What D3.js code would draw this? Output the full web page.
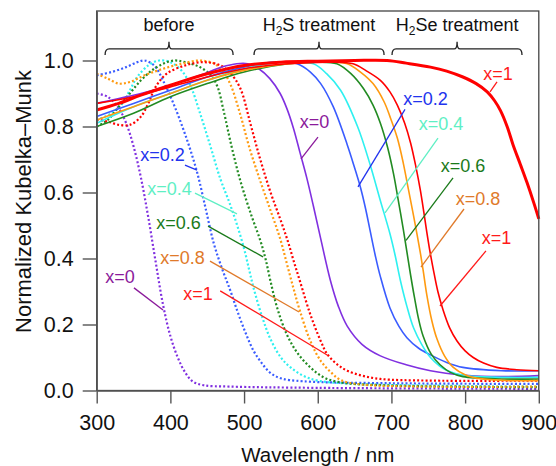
<!DOCTYPE html>
<html><head><meta charset="utf-8">
<script src="https://cdn.jsdelivr.net/npm/d3@7/dist/d3.min.js"></script>
<style>
body{margin:0;background:#fff;}
svg{display:block;font-family:"Liberation Sans",Arial,Helvetica,sans-serif;}
</style></head>
<body><svg id="chart" width="556" height="466"></svg>
<script>
// ---------- data (wavelength nm, normalized K-M) ----------
const xTicks = [300,400,500,600,700,800,900];
const yTicks = [0,0.2,0.4,0.6,0.8,1.0];
const seriesNames = ["x=0","x=0.2","x=0.4","x=0.6","x=0.8","x=1"];

// before (dotted)
const before_x0  = [[300,0.90],[315,0.89],[330,0.855],[340,0.81],[350,0.74],[360,0.645],[370,0.525],[380,0.39],[390,0.26],[400,0.165],[410,0.10],[420,0.055],[430,0.028],[445,0.016],[480,0.012],[600,0.008],[900,0.005]];
const before_x02 = [[300,0.955],[320,0.965],[340,0.98],[355,0.995],[365,1.0],[378,0.985],[391,0.935],[405,0.865],[417,0.795],[427,0.73],[437,0.655],[448,0.55],[459,0.445],[470,0.37],[481,0.305],[491,0.24],[502,0.175],[513,0.12],[525,0.08],[536,0.053],[550,0.037],[580,0.028],[700,0.022],[900,0.02]];
const before_x04 = [[300,0.82],[320,0.84],[335,0.87],[345,0.91],[355,0.95],[370,0.985],[385,1.0],[400,0.995],[415,0.97],[427,0.925],[441,0.835],[455,0.735],[468,0.64],[480,0.57],[490,0.505],[500,0.43],[507,0.365],[513,0.31],[525,0.22],[536,0.155],[550,0.10],[563,0.07],[580,0.045],[600,0.03],[650,0.02],[900,0.012]];
const before_x06 = [[300,0.80],[315,0.82],[330,0.86],[345,0.90],[360,0.94],[375,0.97],[390,0.99],[405,1.0],[420,0.995],[440,0.98],[455,0.955],[464,0.92],[472,0.85],[483,0.74],[495,0.635],[510,0.53],[522,0.455],[529,0.40],[536,0.33],[545,0.25],[558,0.17],[572,0.115],[590,0.07],[608,0.04],[630,0.025],[700,0.015],[900,0.01]];
const before_x08 = [[300,0.96],[315,0.945],[330,0.93],[345,0.935],[365,0.955],[390,0.975],[415,0.99],[440,1.0],[460,0.99],[472,0.965],[482,0.925],[495,0.835],[508,0.73],[522,0.635],[536,0.545],[549,0.46],[558,0.385],[567,0.31],[576,0.24],[590,0.15],[604,0.09],[618,0.055],[631,0.032],[660,0.018],[900,0.012]];
const before_x1  = [[300,0.82],[315,0.815],[330,0.805],[345,0.805],[360,0.83],[370,0.87],[380,0.92],[395,0.96],[420,0.985],[445,0.995],[468,0.985],[482,0.96],[495,0.915],[509,0.805],[522,0.70],[536,0.60],[549,0.52],[559,0.455],[567,0.395],[576,0.33],[590,0.23],[604,0.15],[613,0.11],[627,0.078],[640,0.06],[660,0.045],[685,0.035],[750,0.03],[900,0.03]];

// H2S treatment (thin solid)
const h2s_x0  = [[300,0.87],[330,0.885],[360,0.90],[400,0.925],[440,0.955],[470,0.98],[490,0.99],[505,0.99],[520,0.975],[535,0.945],[549,0.90],[558,0.855],[567,0.795],[576,0.72],[585,0.645],[594,0.56],[604,0.46],[617,0.335],[628,0.255],[640,0.195],[660,0.14],[685,0.105],[720,0.078],[753,0.06],[797,0.047],[850,0.042],[900,0.045]];
const h2s_x02 = [[300,0.83],[350,0.87],[400,0.91],[450,0.95],[500,0.98],[540,0.995],[572,0.99],[590,0.965],[604,0.93],[621,0.86],[640,0.745],[650,0.675],[658,0.615],[665,0.55],[671,0.485],[678,0.41],[685,0.345],[698,0.25],[710,0.195],[721,0.16],[737,0.128],[753,0.108],[775,0.085],[797,0.07],[850,0.06],[900,0.06]];
const h2s_x04 = [[300,0.81],[350,0.86],[400,0.90],[450,0.94],[500,0.975],[550,0.995],[594,0.99],[612,0.96],[631,0.91],[654,0.80],[671,0.685],[685,0.575],[698,0.475],[705,0.41],[712,0.335],[721,0.255],[730,0.19],[741,0.14],[753,0.10],[765,0.075],[776,0.06],[800,0.045],[850,0.04],[900,0.04]];
const h2s_x06 = [[300,0.80],[350,0.84],[400,0.89],[450,0.93],[500,0.965],[560,0.99],[600,0.995],[626,0.99],[645,0.96],[662,0.915],[675,0.865],[685,0.81],[695,0.735],[703,0.655],[709,0.58],[716,0.49],[721,0.42],[726,0.35],[731,0.285],[737,0.215],[743,0.165],[754,0.11],[766,0.078],[780,0.055],[797,0.042],[850,0.035],[900,0.035]];
const h2s_x08 = [[300,0.82],[350,0.86],[400,0.90],[450,0.94],[500,0.97],[560,0.99],[620,0.995],[640,0.99],[658,0.965],[675,0.93],[690,0.875],[698,0.83],[708,0.765],[716,0.69],[723,0.61],[730,0.53],[735,0.47],[739,0.42],[743,0.365],[748,0.29],[755,0.21],[762,0.155],[772,0.105],[784,0.07],[800,0.048],[820,0.036],[860,0.03],[900,0.03]];
const h2s_x1  = [[300,0.87],[350,0.89],[400,0.92],[450,0.95],[500,0.975],[560,0.99],[620,0.995],[648,0.99],[665,0.97],[685,0.94],[698,0.905],[708,0.865],[718,0.81],[726,0.75],[733,0.68],[739,0.61],[744,0.54],[748,0.48],[752,0.425],[757,0.365],[763,0.30],[770,0.245],[779,0.19],[789,0.15],[800,0.12],[811,0.10],[825,0.083],[843,0.07],[870,0.063],[900,0.06]];

// H2Se treatment (thick solid)
const h2se_x1 = [[300,0.85],[330,0.87],[360,0.895],[400,0.925],[450,0.96],[500,0.985],[550,0.995],[600,0.998],[650,1.0],[694,1.0],[720,0.992],[753,0.98],[775,0.968],[797,0.95],[815,0.93],[830,0.905],[840,0.878],[848,0.848],[857,0.80],[865,0.745],[875,0.685],[884,0.63],[893,0.57],[900,0.52]];

const groupNames = ["before","H2S treatment","H2Se treatment"];

// ---------- styles / layout ----------
const lineColors  = ["#8030e0","#3a5cff","#2ef0f0","#228b22","#ff9a10","#ff0000"];
const labelColors = ["#8b1a9b","#2233ee","#5fefc4","#1a7a1a","#e07a2a","#ff1a1a"];

const x = d3.scaleLinear().domain([300,900]).range([96.7,538.8]);
const y = d3.scaleLinear().domain([0,1.15]).range([390.5,11]);

const svg = d3.select("#chart");
const font = '"Liberation Sans",Arial,Helvetica,sans-serif';

const line = d3.line().x(d=>x(d[0])).y(d=>y(d[1])).curve(d3.curveCatmullRom.alpha(0.5));

const beforeSeries = [before_x0,before_x02,before_x04,before_x06,before_x08,before_x1];
const h2sSeries = [h2s_x0,h2s_x02,h2s_x04,h2s_x06,h2s_x08,h2s_x1];

const plot = svg.append("g");
beforeSeries.forEach((s,i)=>{
  plot.append("path").attr("d",line(s)).attr("fill","none")
    .attr("stroke",lineColors[i]).attr("stroke-width",2.2)
    .attr("stroke-dasharray","2,2.2");
});
h2sSeries.forEach((s,i)=>{
  plot.append("path").attr("d",line(s)).attr("fill","none")
    .attr("stroke",lineColors[i]).attr("stroke-width",1.6);
});
plot.append("path").attr("d",line(h2se_x1)).attr("fill","none")
  .attr("stroke",lineColors[5]).attr("stroke-width",3);

// frame
svg.append("rect").attr("x",x(300)).attr("y",y(1.15))
  .attr("width",x(900)-x(300)).attr("height",y(0)-y(1.15))
  .attr("fill","none").attr("stroke","#444").attr("stroke-width",1.3);

// axes
const gx = svg.append("g").attr("transform",`translate(0,${y(0)})`)
  .call(d3.axisBottom(x).tickValues(xTicks).tickSize(13).tickPadding(11).tickSizeOuter(0).tickFormat(d3.format("d")));
const gy = svg.append("g").attr("transform",`translate(${x(300)},0)`)
  .call(d3.axisLeft(y).tickValues(yTicks).tickSize(14).tickPadding(9).tickSizeOuter(0).tickFormat(d3.format(".1f")));
[gx,gy].forEach(g=>{
  g.selectAll("path.domain").attr("stroke","#555").attr("stroke-width",1.4);
  g.selectAll(".tick line").attr("stroke","#555").attr("stroke-width",1.4);
  g.selectAll(".tick text").attr("fill","#111").style("font-size","21.5px").style("font-family",font);
});

// axis titles
svg.append("text").attr("x",(x(300)+x(900))/2).attr("y",462)
  .attr("text-anchor","middle").style("font-size","20.5px").attr("fill","#111")
  .text("Wavelength / nm");
svg.append("text").attr("transform",`translate(31,${(y(0)+y(1))/2 - 24}) rotate(-90)`)
  .attr("text-anchor","middle").style("font-size","22px").attr("fill","#111")
  .text("Normalized Kubelka\u2013Munk");

// group brackets (data coords)
const brackets = [
  {name:groupNames[0], x1:311.4, x2:485.1, xc:398.1},
  {name:groupNames[1], x1:513.5, x2:690.0, xc:601.7},
  {name:groupNames[2], x1:700.8, x2:877.2, xc:789.1}
];
brackets.forEach(b=>{
  const X1=x(b.x1), X2=x(b.x2), XC=x(b.xc), Y=y(1.035), YE=y(1.017), YT=y(1.057);
  const p = `M${X1},${YE} Q${X1},${Y} ${X1+4},${Y} L${XC-3},${Y} Q${XC},${Y} ${XC},${YT} Q${XC},${Y} ${XC+3},${Y} L${X2-4},${Y} Q${X2},${Y} ${X2},${YE}`;
  svg.append("path").attr("d",p).attr("fill","none").attr("stroke","#222").attr("stroke-width",1.3);
  const t = svg.append("text").attr("x",XC).attr("y",y(1.090)).attr("text-anchor","middle")
    .style("font-size","18px").attr("fill","#111");
  if(b.name==="before"){ t.text("before"); }
  else {
    const rest = b.name.slice(2);
    t.append("tspan").text("H");
    t.append("tspan").text("2").style("font-size","12px").attr("dy",4);
    t.append("tspan").text(rest).attr("dy",-4);
  }
});

// annotations: label centre (lx,ly) + leader from (sx,sy) to (ex,ey), in data coords
const annotations = [
  // before
  {s:0, lx:331.6, ly:0.344, sx:350.6, sy:0.311, ex:390.0, ey:0.244},
  {s:1, lx:389.3, ly:0.714, sx:419.8, sy:0.683, ex:436.1, ey:0.668},
  {s:2, lx:398.8, ly:0.611, sx:433.4, sy:0.598, ex:490.4, ey:0.535},
  {s:3, lx:411.0, ly:0.508, sx:451.1, sy:0.498, ex:525.7, ey:0.405},
  {s:4, lx:416.4, ly:0.402, sx:453.8, sy:0.392, ex:574.6, ey:0.238},
  {s:5, lx:437.5, ly:0.295, sx:467.6, sy:0.302, ex:613.3, ey:0.107},
  // H2S
  {s:0, lx:595.6, ly:0.814, sx:600.3, sy:0.768, ex:577.3, ey:0.702},
  {s:1, lx:746.2, ly:0.886, sx:718.4, sy:0.852, ex:654.6, ey:0.617},
  {s:2, lx:767.3, ly:0.808, sx:763.2, sy:0.765, ex:691.3, ey:0.538},
  {s:3, lx:797.2, ly:0.683, sx:783.6, sy:0.644, ex:719.8, ey:0.455},
  {s:4, lx:817.6, ly:0.583, sx:798.5, sy:0.550, ex:740.1, ey:0.374},
  {s:5, lx:842.6, ly:0.465, sx:828.3, sy:0.423, ex:765.9, ey:0.256},
  // H2Se
  {s:5, lx:844.6, ly:0.962, sx:843.3, sy:0.935, ex:833.8, ey:0.905}
];
annotations.forEach(a=>{
  svg.append("line").attr("x1",x(a.sx)).attr("y1",y(a.sy)).attr("x2",x(a.ex)).attr("y2",y(a.ey))
    .attr("stroke",labelColors[a.s]).attr("stroke-width",1.3);
  svg.append("text").attr("x",x(a.lx)).attr("y",y(a.ly)).attr("dy","0.36em")
    .attr("text-anchor","middle").style("font-size","18px").attr("fill",labelColors[a.s])
    .text(seriesNames[a.s]);
});
</script></body></html>
